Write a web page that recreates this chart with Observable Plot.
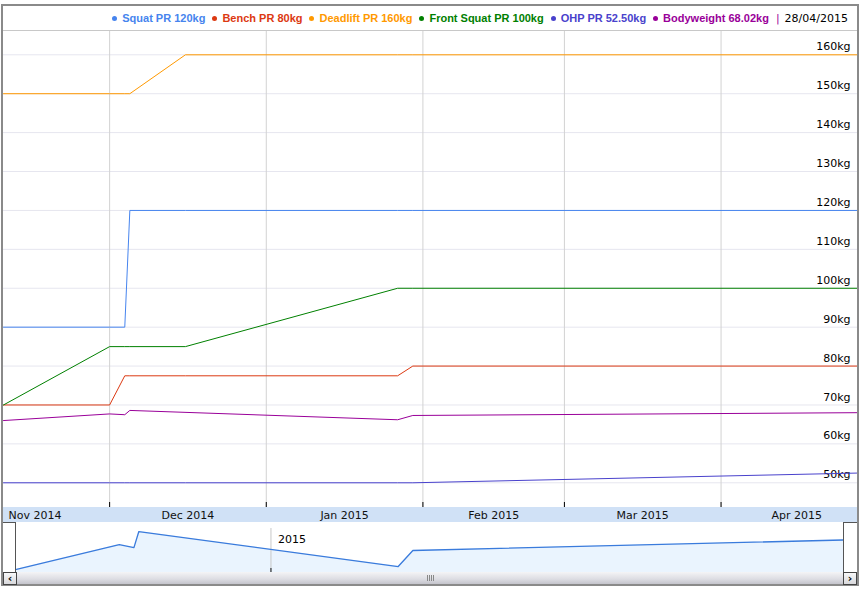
<!DOCTYPE html>
<html><head><meta charset="utf-8">
<script src="https://cdn.jsdelivr.net/npm/d3@7"></script>
<script src="https://cdn.jsdelivr.net/npm/@observablehq/plot@0.6"></script>
<style>
body{margin:0;background:#fff;width:863px;height:591px;overflow:hidden;position:relative;font-family:"DejaVu Sans",Verdana,sans-serif;}
#frame{position:absolute;left:1px;top:4px;width:854px;height:578px;border:2px solid #8a8a8a;background:#fff;}
#legend{position:absolute;left:0;top:0;width:854px;height:24px;border-bottom:1px solid #c8c8c8;display:flex;justify-content:flex-end;align-items:center;box-sizing:content-box;}
#legend .it{display:flex;align-items:center;font:bold 11px "Liberation Sans",Arial,sans-serif;margin-left:7px;white-space:nowrap;}
#legend .dot{width:5px;height:5px;border-radius:50%;margin-right:5px;}
#legend .sep{margin-left:7px;color:#990099;font:11px "DejaVu Sans",sans-serif;}
#legend .date{margin-left:5px;margin-right:9px;color:#000;font:11px "DejaVu Sans",sans-serif;}
#main{position:absolute;left:0;top:25px;width:854px;height:476px;}
#months{position:absolute;left:0;top:501px;width:854px;height:15px;}
#lb{position:absolute;left:0;top:516px;width:12px;height:49px;border-top:1px solid #555;border-right:1px solid #555;background:#fff;}
#ov{position:absolute;left:13px;top:516px;width:827px;height:50px;}
#rb{position:absolute;left:840px;top:516px;width:13px;height:49px;border-top:1px solid #555;border-left:1px solid #555;background:#fff;}
#sb{position:absolute;left:0;top:566px;width:854px;height:12px;background:linear-gradient(#f4f4f6,#dcdce2 60%,#c4c4cc);}
.btn{position:absolute;top:0;width:12px;height:11px;border:1px solid #444;background:linear-gradient(#f8f8f8,#d8d8dc);font:bold 11px "DejaVu Sans",sans-serif;line-height:11px;text-align:center;color:#000;}
#grip{position:absolute;left:424px;top:3px;width:7px;height:6px;background:repeating-linear-gradient(90deg,#888 0 1px,transparent 1px 2px);}
svg{display:block;}
</style></head>
<body>
<div id="frame">
  <div id="legend"></div>
  <div id="main"></div>
  <div id="months"></div>
  <div id="lb"></div><div id="ov"></div><div id="rb"></div>
  <div id="sb"><div class="btn" style="left:0">&lsaquo;</div><div id="grip"></div><div class="btn" style="left:840px">&rsaquo;</div></div>
</div>
<script>
// ---- data ----
const dates = ["2014-11-10","2014-12-01","2014-12-04","2014-12-05","2014-12-16","2015-01-27","2015-01-30","2015-04-28"];
const seriesNames = ["Squat PR","Bench PR","Deadlift PR","Front Squat PR","OHP PR","Bodyweight"];
const seriesColors = ["#4684ee","#dc3912","#ff9900","#008000","#4942cc","#990099"];
const squat      = [90, 90, 90, 120, 120, 120, 120, 120];
const bench      = [70, 70, 77.5, 77.5, 77.5, 77.5, 80, 80];
const deadlift   = [150, 150, 150, 150, 160, 160, 160, 160];
const frontSquat = [70, 85, 85, 85, 85, 100, 100, 100];
const ohp        = [50, 50, 50, 50, 50, 50, 50, 52.5];
const bodyweight = [66.0, 67.7, 67.5, 68.6, null, 66.2, 67.3, 68.02];
const legendLabels = ["Squat PR 120kg","Bench PR 80kg","Deadlift PR 160kg","Front Squat PR 100kg","OHP PR 52.50kg","Bodyweight 68.02kg"];
const legendDate = "28/04/2015";
const yTicks = [50, 60, 70, 80, 90, 100, 110, 120, 130, 140, 150, 160];
const yTickLabels = ["50kg","60kg","70kg","80kg","90kg","100kg","110kg","120kg","130kg","140kg","150kg","160kg"];
const monthStartStr = ["2014-12-01","2015-01-01","2015-02-01","2015-03-01","2015-04-01"];
const monthLabels = ["Nov 2014","Dec 2014","Jan 2015","Feb 2015","Mar 2015","Apr 2015"];
const overviewYear = "2015";
const overviewYearStart = "2015-01-01";

// ---- build ----
const D = s => new Date(s + "T00:00:00Z");
const xDomain = [D(dates[0]), D(dates[dates.length-1])];
const allSeries = [squat, bench, deadlift, frontSquat, ohp, bodyweight];
const rows = [];
allSeries.forEach((vals, k) => vals.forEach((v, i) => { if (v != null) rows.push({series: seriesNames[k], date: D(dates[i]), value: v}); }));
const monthStarts = monthStartStr.map(D);
// month label anchors: first label at domain start, others at middle of month
const monthTexts = monthLabels.map((t, i) => {
  if (i === 0) return {x: xDomain[0], text: t};
  const s = monthStarts[i-1];
  const e = d3.utcMonth.offset(s, 1);
  return {x: new Date((+s + +e) / 2), text: t};
});

// legend
const leg = document.getElementById("legend");
legendLabels.forEach((t, i) => {
  const it = document.createElement("div"); it.className = "it"; it.style.color = seriesColors[i];
  const dot = document.createElement("span"); dot.className = "dot"; dot.style.background = seriesColors[i];
  it.appendChild(dot); it.appendChild(document.createTextNode(t)); leg.appendChild(it);
});
const sep = document.createElement("span"); sep.className = "sep"; sep.textContent = "|"; leg.appendChild(sep);
const dt = document.createElement("span"); dt.className = "date"; dt.textContent = legendDate; leg.appendChild(dt);

const font = {fontFamily: "DejaVu Sans, Verdana, sans-serif", fontSize: "11px", background: "transparent"};

const main = Plot.plot({
  width: 854, height: 476, margin: 0,
  x: {type: "utc", domain: xDomain, axis: null},
  y: {domain: [43.65, 165.99], axis: null},
  color: {domain: seriesNames, range: seriesColors},
  style: font,
  marks: [
    Plot.ruleY(yTicks, {stroke: "#e6e6ef", strokeOpacity: 1}),
    Plot.ruleX(monthStarts, {stroke: "#d2d2d2", strokeOpacity: 1}),
    Plot.ruleX(monthStarts, {stroke: "#000", strokeOpacity: 1, insetTop: 471}),
    Plot.text(yTicks, {y: d => d, text: (d, i) => yTickLabels[i], frameAnchor: "right", textAnchor: "end", dx: -7, dy: -8, fill: "#000"}),
    Plot.line(rows, {x: "date", y: "value", z: "series", stroke: "series", strokeWidth: 1})
  ]
});
document.getElementById("main").appendChild(main);

const months = Plot.plot({
  width: 854, height: 15, margin: 0,
  x: {type: "utc", domain: xDomain, axis: null},
  style: {...font, background: "#d0e1f6"},
  marks: [
    Plot.text(monthTexts.slice(0,1), {x: "x", text: "text", textAnchor: "start", frameAnchor: "middle", dx: 5, fill: "#111"}),
    Plot.text(monthTexts.slice(1), {x: "x", text: "text", textAnchor: "middle", frameAnchor: "middle", fill: "#111"})
  ]
});
document.getElementById("months").appendChild(months);

const bw = rows.filter(r => r.series === "Bodyweight");
const ov = Plot.plot({
  width: 827, height: 50, margin: 0,
  x: {type: "utc", domain: xDomain, axis: null},
  y: {domain: [65.79, 69.22], axis: null},
  style: font,
  marks: [
    Plot.areaY(bw, {x: "date", y: "value", fill: "#eaf4fe", clip: true}),
    Plot.ruleX([D(overviewYearStart)], {stroke: "#c8c8c8", strokeOpacity: 1, insetTop: 6, insetBottom: 4}),
    Plot.ruleX([D(overviewYearStart)], {stroke: "#000", strokeOpacity: 1, insetTop: 46}),
    Plot.text([overviewYear], {x: () => D(overviewYearStart), text: d => d, frameAnchor: "top", textAnchor: "start", dx: 7, dy: 13, fill: "#000"}),
    Plot.line(bw, {x: "date", y: "value", stroke: "#3a7bdc", strokeWidth: 1.3})
  ]
});
document.getElementById("ov").appendChild(ov);
</script>
</body></html>
